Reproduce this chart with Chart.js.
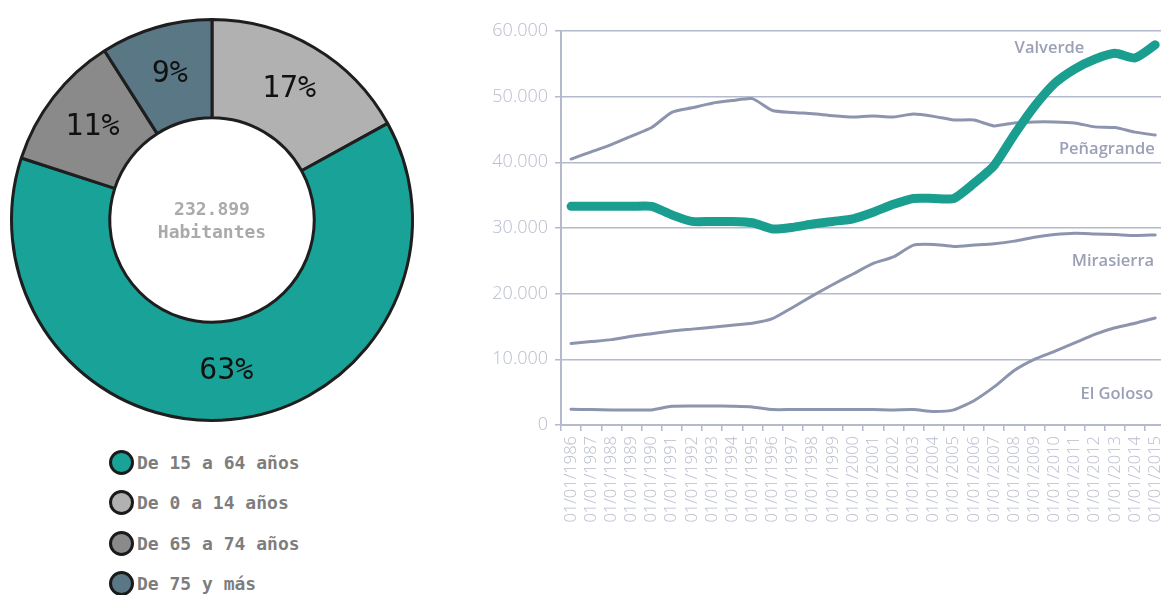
<!DOCTYPE html>
<html>
<head>
<meta charset="utf-8">
<script src="https://cdn.jsdelivr.net/npm/chart.js@4.4.1/dist/chart.umd.min.js"></script>
<style>
body{margin:0;width:1161px;height:595px;overflow:hidden;background:#fff;position:relative}
#pieBox{position:absolute;left:0;top:8px;width:424px;height:424px}
#lineBox{position:absolute;left:480px;top:0;width:700px;height:595px}
#legend{position:absolute;left:109px;top:442px}
.item{display:flex;align-items:center;height:40.5px;font:bold 18px "DejaVu Sans Mono",monospace;color:#7d7d7d}
.dot{width:19px;height:19px;border-radius:50%;border:3px solid #1a1a1a;margin-right:3px}
</style>
</head>
<body>
<div id="pieBox"><canvas id="pie"></canvas></div>
<div id="legend"></div>
<div id="lineBox"><canvas id="line"></canvas></div>
<script>
// donut: slices in drawing order, clockwise from the top
const ageGroups = ['De 0 a 14 años', 'De 15 a 64 años', 'De 65 a 74 años', 'De 75 y más']
const ageShare = [17, 63, 11, 9]
const ageColors = ['#b1b1b1', '#19a298', '#8a8a8a', '#5a7785']
const legendOrder = [1, 0, 2, 3]
const totalText = ['232.899', 'Habitantes']

// line chart
const years = []
for (let y = 1986; y <= 2015; y++) years.push('01/01/' + y)
const yTicks = [0, 10000, 20000, 30000, 40000, 50000, 60000]
const valverde = [33300, 33300, 33300, 33300, 33300, 32000, 31000, 31000, 31000, 30800, 29850, 30100, 30600, 31000, 31400,
    32400, 33600, 34500, 34500, 34500, 36800, 39500, 44200, 48500, 52000, 54200, 55700, 56600, 55900, 57900]
const penagrande = [40500, 41600, 42700, 44000, 45300, 47600, 48300, 49000, 49400, 49700, 47900, 47600, 47400, 47100, 46900,
    47050, 46900, 47350, 47000, 46450, 46450, 45550, 46000, 46150, 46150, 46000, 45400, 45300, 44600, 44150]
const mirasierra = [12400, 12700, 13000, 13500, 13900, 14300, 14600, 14900, 15200, 15500, 16200, 17900, 19700, 21400, 23000,
    24600, 25600, 27400, 27500, 27200, 27400, 27600, 28000, 28600, 29000, 29200, 29100, 29000, 28850, 28950]
const elGoloso = [2400, 2350, 2300, 2300, 2300, 2850, 2900, 2900, 2850, 2750, 2350, 2350, 2350, 2350, 2350, 2350, 2300, 2350,
    2050, 2300, 3700, 5800, 8300, 10000, 11200, 12500, 13800, 14800, 15500, 16300]
const seriesNames = ['Valverde', 'Peñagrande', 'Mirasierra', 'El Goloso']

// legend
const legend = document.getElementById('legend')
legendOrder.forEach(i => {
    const d = document.createElement('div')
    d.className = 'item'
    d.innerHTML = '<span class="dot" style="background:' + ageColors[i] + '"></span>' + ageGroups[i]
    legend.appendChild(d)
})

const pctLabels = {
    id: 'pctLabels',
    afterDatasetsDraw(chart) {
        const ctx = chart.ctx
        ctx.save()
        ctx.textAlign = 'center'
        ctx.textBaseline = 'middle'
        ctx.fillStyle = '#111'
        ctx.font = '30px "DejaVu Sans Mono", monospace'
        chart.getDatasetMeta(0).data.forEach((arc, i) => {
            const p = arc.tooltipPosition()
            ctx.fillText(ageShare[i] + '%', p.x, p.y)
        })
        const a = chart.getDatasetMeta(0).data[0]
        ctx.fillStyle = '#aaaaaa'
        ctx.font = 'bold 18px "DejaVu Sans Mono", monospace'
        ctx.fillText(totalText[0], a.x, a.y - 10)
        ctx.fillText(totalText[1], a.x, a.y + 13)
        ctx.restore()
    }
}

new Chart(document.getElementById('pie'), {
    type: 'doughnut',
    data: {
        labels: ageGroups,
        datasets: [{data: ageShare, backgroundColor: ageColors, borderColor: '#1e1e1e', borderWidth: 3}]
    },
    options: {
        responsive: true,
        maintainAspectRatio: false,
        animation: false,
        cutout: '51%',
        layout: {padding: 10},
        plugins: {legend: {display: false}, tooltip: {enabled: false}}
    },
    plugins: [pctLabels]
})

const lineGray = '#8d94ae'
const gridGray = '#b4b9cc'

// where the series names sit: [category index, value]
const nameAt = [[23.75, 57400], [26.6, 42000], [26.9, 25000], [27.1, 4600]]

const seriesNamesPlugin = {
    id: 'seriesNames',
    afterDatasetsDraw(chart) {
        const ctx = chart.ctx
        const xs = chart.scales.x, ys = chart.scales.y
        ctx.save()
        ctx.textAlign = 'center'
        ctx.textBaseline = 'middle'
        ctx.fillStyle = '#9ba0b6'
        ctx.font = '600 16.5px "Open Sans", sans-serif'
        seriesNames.forEach((n, i) => {
            const p = nameAt[i]
            ctx.fillText(n, xs.getPixelForValue(p[0]), ys.getPixelForValue(p[1]))
        })
        ctx.restore()
    }
}

const fmt = v => String(v).replace(/\B(?=(\d{3})+(?!\d))/g, '.')

new Chart(document.getElementById('line'), {
    type: 'line',
    data: {
        labels: years,
        datasets: [
            {data: valverde, borderColor: '#1a9e8f', borderWidth: 9},
            {data: penagrande, borderColor: lineGray, borderWidth: 3},
            {data: mirasierra, borderColor: lineGray, borderWidth: 3},
            {data: elGoloso, borderColor: lineGray, borderWidth: 3}
        ]
    },
    options: {
        responsive: true,
        maintainAspectRatio: false,
        animation: false,
        layout: {padding: {top: 31, right: 0, left: 0, bottom: 0}},
        elements: {point: {radius: 0}, line: {tension: 0.2, borderCapStyle: 'round', borderJoinStyle: 'round'}},
        plugins: {legend: {display: false}, tooltip: {enabled: false}},
        scales: {
            x: {
                offset: true,
                grid: {offset: true, drawOnChartArea: false, color: gridGray, lineWidth: 1.5, tickLength: 6},
                border: {color: gridGray, width: 2},
                ticks: {color: '#b9bdcc', font: {family: '"Open Sans", sans-serif', size: 16.5, weight: 300}, minRotation: 90, maxRotation: 90, autoSkip: false, padding: 5},
                afterFit(s) { s.height = 170 }
            },
            y: {
                min: 0,
                max: 60000,
                afterBuildTicks(s) { s.ticks = yTicks.map(v => ({value: v})) },
                grid: {color: gridGray, lineWidth: 1.5, tickLength: 6},
                border: {color: gridGray, width: 2},
                ticks: {color: '#b9bdcc', font: {family: '"Open Sans", sans-serif', size: 18, weight: 300}, padding: 7, callback: v => fmt(v)},
                afterFit(s) { s.width = 81 }
            }
        }
    },
    plugins: [seriesNamesPlugin]
})
</script>
</body>
</html>
